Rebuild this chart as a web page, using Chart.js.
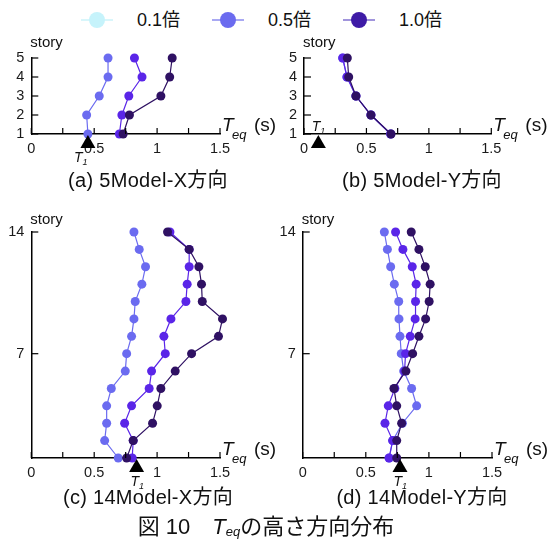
<!DOCTYPE html>
<html>
<head>
<meta charset="utf-8">
<script src="https://cdn.jsdelivr.net/npm/chart.js@4.4.1/dist/chart.umd.min.js"></script>
<style>
    body { margin: 0; background: #fff; width: 552px; height: 550px; position: relative; overflow: hidden;
        font-family: "Liberation Sans", Arial, "Noto Sans CJK JP", sans-serif; color: #111; }
    canvas { position: absolute; }
    .cap { position: absolute; width: 276px; text-align: center; font-size: 20px; line-height: 24px; letter-spacing: 0.3px; }
    .leg-line { position: absolute; height: 2px; width: 32px; top: 19px; }
    .leg-dot { position: absolute; width: 16px; height: 16px; border-radius: 50%; top: 12px; }
    .leg-text { position: absolute; top: 9px; font-size: 18px; line-height: 22px; }
    #main-cap { position: absolute; left: -10px; width: 552px; top: 513px; text-align: center; font-size: 22px; line-height: 28px; }
    #main-cap sub { font-size: 13px; font-style: italic; vertical-align: -2px; }
</style>
</head>
<body>
<div id="legend"></div>
<canvas id="pa" width="276" height="140" style="left:0;top:30px"></canvas>
<canvas id="pb" width="276" height="140" style="left:276px;top:30px"></canvas>
<canvas id="pc" width="276" height="290" style="left:0;top:205px"></canvas>
<canvas id="pd" width="276" height="290" style="left:276px;top:205px"></canvas>
<div class="cap" style="left:10px;top:168px">(a) 5Model-X方向</div>
<div class="cap" style="left:284px;top:168px">(b) 5Model-Y方向</div>
<div class="cap" style="left:10px;top:485px">(c) 14Model-X方向</div>
<div class="cap" style="left:284px;top:485px">(d) 14Model-Y方向</div>
<div id="main-cap">図 10　<i>T</i><sub>eq</sub>の高さ方向分布</div>
<script>
// Daten
var legendLabels = ["0.1倍", "0.5倍", "1.0倍"],
    stories5 = [1, 2, 3, 4, 5],
    stories14 = [1, 2, 3, 4, 5, 6, 7, 8, 9, 10, 11, 12, 13, 14],
    yTicks5 = [1, 2, 3, 4, 5],
    yTicks14 = [7, 14],
    t1Values = [0.45, 0.115, 0.837, 0.771];

// (a) 5Model-X
var aLow = [0.45, 0.44, 0.54, 0.61, 0.61],
    aMid = [0.70, 0.72, 0.775, 0.88, 0.82],
    aHigh = [0.73, 0.78, 1.03, 1.10, 1.12];
// (b) 5Model-Y
var bLow = [0.694, 0.536, 0.416, 0.344, 0.310],
    bMid = [0.694, 0.536, 0.416, 0.344, 0.310],
    bHigh = [0.697, 0.536, 0.416, 0.358, 0.347];
// (c) 14Model-X
var cLow = [0.691, 0.583, 0.599, 0.599, 0.636, 0.747, 0.758, 0.797, 0.816, 0.826, 0.879, 0.908, 0.858, 0.816],
    cMid = [0.802, 0.810, 0.742, 0.797, 0.937, 0.956, 1.065, 1.054, 1.110, 1.229, 1.239, 1.255, 1.255, 1.102],
    cHigh = [0.758, 0.810, 0.964, 1.001, 1.030, 1.144, 1.274, 1.488, 1.520, 1.359, 1.353, 1.332, 1.255, 1.083];
// (d) 14Model-Y
var dLow = [0.686, 0.713, 0.79, 0.903, 0.863, 0.800, 0.781, 0.771, 0.763, 0.761, 0.726, 0.697, 0.671, 0.647],
    dMid = [0.684, 0.713, 0.652, 0.678, 0.73, 0.807, 0.815, 0.852, 0.891, 0.894, 0.899, 0.868, 0.794, 0.736],
    dHigh = [0.745, 0.745, 0.784, 0.745, 0.723, 0.818, 0.871, 0.921, 0.974, 1.002, 1.010, 0.971, 0.921, 0.860];

var FONT = '"Liberation Sans", Arial, sans-serif',
    seriesColors = ["#6b6bf0", "#5a25e8", "#2f1163"],
    legendDots = ["#c6f3fb", "#6b6bef", "#3e1ba6"],
    legendLines = ["#d8f6fb", "#a9a9f3", "#a195dc"],
    legendX = [81, 212, 343];

// Legende oben als HTML
function buildLegend() {
    var el = document.getElementById("legend");
    for (let i = 0; i < legendLabels.length; i++) {
        let x = legendX[i];
        el.insertAdjacentHTML("beforeend",
            '<div class="leg-line" style="left:' + x + 'px;background:' + legendLines[i] + '"></div>' +
            '<div class="leg-dot" style="left:' + (x + 8) + 'px;background:' + legendDots[i] + '"></div>' +
            '<div class="leg-text" style="left:' + (x + 56) + 'px">' + legendLabels[i] + '</div>');
    }
}

function toPoints(values, stories) {
    return values.map((v, i) => ({ x: v, y: stories[i] }));
}

// Achsenstriche nach innen, T1-Dreieck und Beschriftungen
var panelDecor = {
    id: "panelDecor",
    afterDraw(chart) {
        var ctx = chart.ctx,
            area = chart.chartArea,
            xs = chart.scales.x,
            ys = chart.scales.y,
            p = chart.options.plugins.panelDecor,
            px;
        ctx.save();
        ctx.strokeStyle = "#000";
        ctx.lineWidth = 1.2;
        xs.ticks.forEach((t) => {
            let x = xs.getPixelForValue(t.value);
            ctx.beginPath();
            ctx.moveTo(x, area.bottom);
            ctx.lineTo(x, area.bottom - 6);
            ctx.stroke();
        });
        ys.ticks.forEach((t) => {
            let y = ys.getPixelForValue(t.value);
            ctx.beginPath();
            ctx.moveTo(area.left, y);
            ctx.lineTo(area.left + 7, y);
            ctx.stroke();
        });

        // T1 Dreieck
        px = xs.getPixelForValue(p.t1);
        ctx.fillStyle = "#000";
        ctx.beginPath();
        ctx.moveTo(px, area.bottom + 1);
        ctx.lineTo(px + 7.5, area.bottom + 14);
        ctx.lineTo(px - 7.5, area.bottom + 14);
        ctx.closePath();
        ctx.fill();

        ctx.fillStyle = "#111";
        ctx.textBaseline = "alphabetic";
        ctx.textAlign = "left";
        ctx.font = "italic 14px " + FONT;
        ctx.fillText("T", px + p.t1dx, area.bottom + p.t1dy);
        ctx.font = "italic 9px " + FONT;
        ctx.fillText("1", px + p.t1dx + 8.5, area.bottom + p.t1dy + 3);

        // Teq (s)
        ctx.font = "italic 19px " + FONT;
        ctx.fillText("T", area.right + 2, area.bottom - 3);
        ctx.font = "italic 13px " + FONT;
        ctx.fillText("eq", area.right + 12, area.bottom + 5);
        ctx.font = "19px " + FONT;
        ctx.fillText("(s)", area.right + 34, area.bottom - 3);

        // story
        ctx.font = "15px " + FONT;
        ctx.textBaseline = "middle";
        ctx.fillText("story", area.left - 1, area.top + p.storyDy);
        ctx.restore();
    }
};

function makePanel(id, series, stories, yTicks, cfg) {
    var datasets = [];
    // dunkle Serie zuerst, damit sie oben liegt
    for (let i = series.length - 1; i >= 0; i--) {
        datasets.push({
            data: toPoints(series[i], stories),
            showLine: true,
            borderColor: seriesColors[i],
            backgroundColor: seriesColors[i],
            borderWidth: 1.2,
            pointRadius: 4.5,
            pointBorderWidth: 0,
            clip: false
        });
    }
    return new Chart(document.getElementById(id), {
        type: "scatter",
        data: { datasets: datasets },
        options: {
            responsive: false,
            animation: false,
            events: [],
            layout: { padding: { left: 0, top: cfg.padTop, right: cfg.padRight, bottom: cfg.padBottom } },
            plugins: {
                legend: { display: false },
                tooltip: { enabled: false },
                panelDecor: cfg
            },
            scales: {
                x: {
                    type: "linear", min: 0, max: 1.5,
                    ticks: {
                        stepSize: 0.25, autoSkip: false, maxRotation: 0, padding: 6, color: "#1a1a1a",
                        font: { family: FONT, size: 14.5 },
                        callback: (v) => Math.abs(v * 2 - Math.round(v * 2)) < 1e-6 ? String(v) : ""
                    },
                    grid: { display: false, drawTicks: false },
                    border: { color: "#000", width: 1.5 },
                    afterFit: (s) => { s.height = 20; }
                },
                y: {
                    type: "linear", min: stories[0], max: stories[stories.length - 1],
                    afterBuildTicks: (s) => { s.ticks = yTicks.map((v) => ({ value: v })); },
                    ticks: { autoSkip: false, padding: 7, color: "#1a1a1a", font: { family: FONT, size: 14.5 } },
                    grid: { display: false, drawTicks: false },
                    border: { color: "#000", width: 1.5 },
                    afterFit: (s) => { s.width = cfg.axisW; }
                }
            }
        },
        plugins: [panelDecor]
    });
}

buildLegend();
makePanel("pa", [aLow, aMid, aHigh], stories5, yTicks5,
    { axisW: 31.3, padTop: 28, padRight: 56, padBottom: 16, t1: t1Values[0], t1dx: -14, t1dy: 28, storyDy: -15 });
makePanel("pb", [bLow, bMid, bHigh], stories5, yTicks5,
    { axisW: 28, padTop: 28, padRight: 60.7, padBottom: 16, t1: t1Values[1], t1dx: -6.5, t1dy: -3, storyDy: -15 });
makePanel("pc", [cLow, cMid, cHigh], stories14, yTicks14,
    { axisW: 31.3, padTop: 27, padRight: 56, padBottom: 17, t1: t1Values[2], t1dx: -6, t1dy: 28, storyDy: -12 });
makePanel("pd", [dLow, dMid, dHigh], stories14, yTicks14,
    { axisW: 26.7, padTop: 27, padRight: 60, padBottom: 17, t1: t1Values[3], t1dx: -6.5, t1dy: 28, storyDy: -12 });
</script>
</body>
</html>
